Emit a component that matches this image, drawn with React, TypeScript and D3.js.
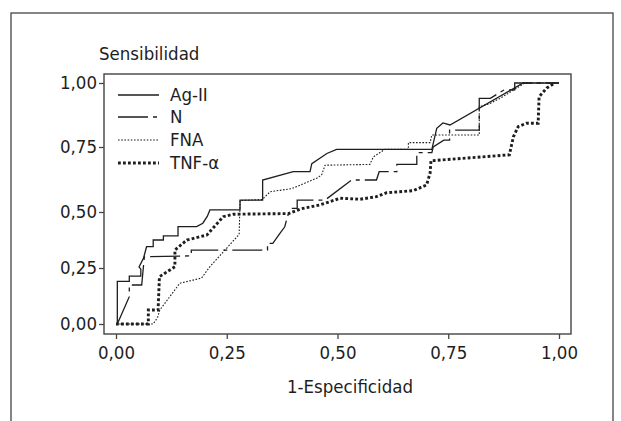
import React, { useEffect, useRef } from "react";
import * as d3 from "d3";

type Pt = [number, number];

// ROC curves, [1-especificidad, sensibilidad]
const agII: Pt[] = [
	[0.003, 0], [0.003, 0.19], [0.03, 0.19], [0.03, 0.214], [0.056, 0.214],
	[0.056, 0.245], [0.052, 0.255], [0.062, 0.293], [0.069, 0.345], [0.084, 0.345],
	[0.084, 0.375], [0.107, 0.375], [0.107, 0.393], [0.14, 0.393], [0.14, 0.435],
	[0.182, 0.435], [0.196, 0.45], [0.206, 0.48], [0.212, 0.508], [0.28, 0.508],
	[0.28, 0.546], [0.331, 0.546], [0.331, 0.623], [0.4, 0.655], [0.438, 0.655],
	[0.442, 0.686], [0.476, 0.725], [0.498, 0.741], [0.713, 0.741], [0.724, 0.823],
	[0.738, 0.844], [0.754, 0.836], [0.919, 1.0], [1.0, 1.0],
];

const nSeries: Pt[] = [
	[0.003, 0], [0.03, 0.122], [0.03, 0.174], [0.058, 0.174], [0.064, 0.3],
	[0.17, 0.304], [0.17, 0.33], [0.342, 0.33], [0.342, 0.36], [0.354, 0.36],
	[0.37, 0.405], [0.381, 0.434], [0.387, 0.48], [0.395, 0.514], [0.409, 0.514],
	[0.409, 0.546], [0.472, 0.546], [0.532, 0.623], [0.588, 0.623], [0.594, 0.655],
	[0.634, 0.655], [0.634, 0.683], [0.679, 0.683], [0.679, 0.728], [0.713, 0.728],
	[0.716, 0.75], [0.74, 0.777], [0.753, 0.777], [0.753, 0.816], [0.82, 0.816],
	[0.82, 0.94], [0.845, 0.94], [0.876, 0.973], [0.9, 0.973], [0.9, 1.0], [1.0, 1.0],
];

const fna: Pt[] = [
	[0, 0], [0.084, 0], [0.094, 0.03], [0.099, 0.0625], [0.144, 0.182],
	[0.174, 0.196], [0.193, 0.205], [0.212, 0.256], [0.278, 0.4], [0.28, 0.544],
	[0.33, 0.548], [0.348, 0.578], [0.397, 0.59], [0.453, 0.63], [0.464, 0.642],
	[0.472, 0.68], [0.573, 0.683], [0.581, 0.712], [0.607, 0.741], [0.66, 0.741],
	[0.66, 0.767], [0.709, 0.767], [0.713, 0.797], [0.82, 0.797], [0.82, 0.907],
	[0.844, 0.92], [0.867, 0.94], [0.923, 1.0], [0.991, 1.0],
];

const tnf: Pt[] = [
	[0, 0], [0.073, 0], [0.073, 0.0625], [0.095, 0.0625], [0.098, 0.211],
	[0.133, 0.256], [0.133, 0.33], [0.16, 0.375], [0.205, 0.397], [0.242, 0.479],
	[0.265, 0.49], [0.39, 0.493], [0.417, 0.512], [0.46, 0.527], [0.506, 0.553],
	[0.551, 0.549], [0.588, 0.559], [0.611, 0.574], [0.671, 0.582], [0.701, 0.604],
	[0.709, 0.649], [0.711, 0.697], [0.888, 0.72], [0.897, 0.79], [0.908, 0.83],
	[0.927, 0.843], [0.953, 0.843], [0.955, 0.946], [0.972, 0.98], [0.991, 1.0],
];

const seriesNames = ["Ag-II", "N", "FNA", "TNF-\u03b1"];
const xTicks = [0, 0.25, 0.5, 0.75, 1];
const yTicks = [0, 0.25, 0.5, 0.75, 1];

const FONT = "'Liberation Sans Narrow', 'DejaVu Sans Condensed', Arial, sans-serif";
const FS = "18.5px";
const INK = "#1e1e1e";

const App = () => {
	const svgRef = useRef<SVGSVGElement>(null);

	useEffect(() => {
		const svg = d3.select(svgRef.current);
		svg.selectAll("*").remove();

		// scanned figure: y axis spacing is not quite even
		const x = d3.scaleLinear().domain([0, 1]).range([116, 559]);
		const y = d3.scaleLinear().domain(yTicks).range([324, 268, 212, 147, 83]);

		// outer frame
		svg.append("rect")
			.attr("x", 11).attr("y", 13)
			.attr("width", 602).attr("height", 430)
			.attr("fill", "none").attr("stroke", "#444").attr("stroke-width", 1.3);

		// plot box
		svg.append("rect")
			.attr("x", 104).attr("y", 74)
			.attr("width", 467).attr("height", 260)
			.attr("fill", "none").attr("stroke", "#444").attr("stroke-width", 1.4);

		const fmt = (d: number) => d.toFixed(2).replace(".", ",");

		const yAxis = svg.append("g")
			.attr("transform", "translate(104,0)")
			.call(d3.axisLeft(y).tickValues(yTicks).tickSize(5).tickFormat((d) => fmt(d as number)));
		yAxis.select(".domain").remove();
		yAxis.selectAll("line").attr("stroke", "#444").attr("stroke-width", 1.3);
		yAxis.selectAll("text")
			.attr("x", -7)
			.style("font-family", FONT).style("font-size", FS).attr("fill", INK);

		const xAxis = svg.append("g")
			.attr("transform", "translate(0,334)")
			.call(d3.axisBottom(x).tickValues(xTicks).tickSize(5).tickFormat((d) => fmt(d as number)));
		xAxis.select(".domain").remove();
		xAxis.selectAll("line").attr("stroke", "#444").attr("stroke-width", 1.3);
		xAxis.selectAll("text")
			.attr("y", 12)
			.style("font-family", FONT).style("font-size", FS).attr("fill", INK);

		svg.append("text")
			.attr("x", 99).attr("y", 60)
			.style("font-family", FONT).style("font-size", FS).attr("fill", INK)
			.text("Sensibilidad");

		svg.append("text")
			.attr("x", 350).attr("y", 393)
			.attr("text-anchor", "middle")
			.style("font-family", FONT).style("font-size", FS).attr("fill", INK)
			.text("1-Especificidad");

		const styles = [
			{ data: agII, width: 1.3, dash: null },
			{ data: nSeries, width: 1.3, dash: "30,5,4,5" },
			{ data: fna, width: 1.1, dash: "1.6,1.6" },
			{ data: tnf, width: 2.9, dash: "2.8,2.2" },
		];

		const line = d3.line<Pt>()
			.x((d) => x(d[0]))
			.y((d) => y(d[1]));

		styles.forEach((s) => {
			svg.append("path")
				.datum(s.data)
				.attr("d", line)
				.attr("fill", "none")
				.attr("stroke", INK)
				.attr("stroke-width", s.width)
				.attr("stroke-dasharray", s.dash);
		});

		// legend
		const legendY = [95, 117, 140, 163];
		styles.forEach((s, i) => {
			svg.append("line")
				.attr("x1", 118).attr("x2", 159)
				.attr("y1", legendY[i]).attr("y2", legendY[i])
				.attr("stroke", INK)
				.attr("stroke-width", s.width)
				.attr("stroke-dasharray", s.dash);
			svg.append("text")
				.attr("x", 170).attr("y", legendY[i])
				.attr("dy", "0.35em")
				.style("font-family", FONT).style("font-size", FS).attr("fill", INK)
				.text(seriesNames[i]);
		});
	}, []);

	return (
		<svg
			ref={svgRef}
			width={621}
			height={421}
			style={{ position: "absolute", left: 0, top: 0, background: "#fff" }}
		/>
	);
};

export default App;
